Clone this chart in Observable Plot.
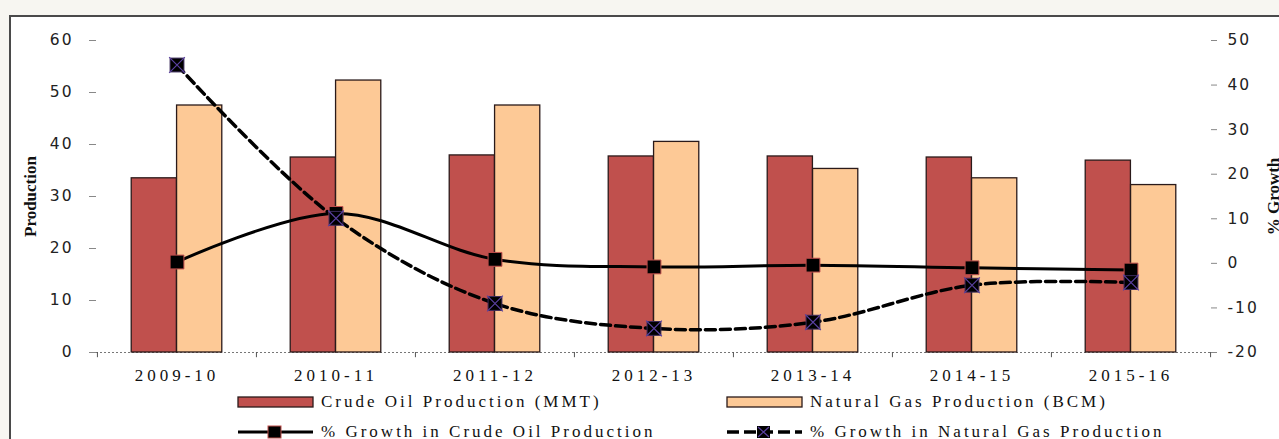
<!DOCTYPE html>
<html>
<head>
<meta charset="utf-8">
<script src="https://cdn.jsdelivr.net/npm/d3@7"></script>
<script src="https://cdn.jsdelivr.net/npm/@observablehq/plot@0.6"></script>
<style>
  html, body { margin: 0; padding: 0; }
  body { width: 1279px; height: 439px; background: #f7f6f1; position: relative; overflow: hidden; }
  #frame { position: absolute; left: 9px; top: 15px; width: 1270px; height: 424px; background: #fff;
           border-top: 2px solid #4a4a4a; border-left: 2px solid #4a4a4a; box-sizing: border-box; }
  #chart { position: absolute; left: 0; top: 0; }
  #legend { position: absolute; left: 0; top: 389px; width: 1279px; font-family: "Liberation Serif", serif;
            font-size: 17px; letter-spacing: 3px; color: #111; }
  .item { position: absolute; display: flex; align-items: center; white-space: nowrap; }
  .item svg { margin-right: 6px; }
</style>
</head>
<body>
<div id="frame"></div>
<div id="chart"></div>
<div id="legend"></div>
<script>
const categories = ["2009-10", "2010-11", "2011-12", "2012-13", "2013-14", "2014-15", "2015-16"];
const crudeOil = [33.5, 37.5, 37.9, 37.7, 37.7, 37.5, 36.9];
const naturalGas = [47.5, 52.3, 47.5, 40.5, 35.3, 33.5, 32.2];
const crudeGrowth = [0.3, 11.2, 0.9, -0.8, -0.4, -1.0, -1.5];
const gasGrowth = [44.5, 10.1, -9.0, -14.6, -13.2, -4.9, -4.3];
const leftTicks = [0, 10, 20, 30, 40, 50, 60];
const rightTicks = [-20, -10, 0, 10, 20, 30, 40, 50];
const seriesNames = ["Crude Oil Production (MMT)", "Natural Gas Production (BCM)",
                     "% Growth in Crude Oil Production", "% Growth in Natural Gas Production"];

const crudeColor = "#c0504d", gasColor = "#fdc996";
// map right-axis (growth %) values onto the left production scale: -20..50 -> 0..60
const toLeft = g => (g + 20) * 60 / 70;
const fromLeft = v => v * 70 / 60 - 20;

const rows = categories.map((c, i) => ({
  cat: c, crude: crudeOil[i], gas: naturalGas[i],
  cg: toLeft(crudeGrowth[i]), gg: toLeft(gasGrowth[i])
}));

const W = 1279, H = 390;
const mL = 96, mR = 69, mT = 40, mB = 38;
const bandW = (W - mL - mR) / categories.length;
const half = bandW * 0.57 / 2;

const chart = Plot.plot({
  width: W, height: H,
  marginLeft: mL, marginRight: mR, marginTop: mT, marginBottom: mB,
  style: {background: "transparent", color: "#111", overflow: "visible"},
  x: {type: "band", domain: categories, padding: 0, axis: null},
  y: {domain: [0, 60], axis: null},
  marks: [
    Plot.ruleY([0], {stroke: "#777", strokeDasharray: "2,2", strokeWidth: 1.2}),
    Plot.barY(rows, {x: "cat", y: "crude", fill: crudeColor, stroke: "#2a1a1a", strokeWidth: 1.3,
      insetLeft: bandW / 2 - half, insetRight: bandW / 2}),
    Plot.barY(rows, {x: "cat", y: "gas", fill: gasColor, stroke: "#2a1a1a", strokeWidth: 1.3,
      insetLeft: bandW / 2, insetRight: bandW / 2 - half}),
    Plot.ruleX(categories, {x: d => d, dx: -bandW / 2, y1: 0, y2: -1, stroke: "#555"}),
    Plot.ruleX(categories.slice(-1), {x: d => d, dx: bandW / 2, y1: 0, y2: -1, stroke: "#555"}),
    // left axis
    Plot.ruleX([0], {frameAnchor: "left", y1: 0, y2: 60, stroke: "#999", strokeWidth: 1.5}),
    Plot.axisY({anchor: "left", ticks: leftTicks, tickSize: 7, tickPadding: 16, label: null}),
    // right axis
    Plot.ruleX([0], {frameAnchor: "right", y1: 0, y2: 60, stroke: "#999", strokeWidth: 1.5}),
    Plot.axisY({anchor: "right", ticks: rightTicks.map(toLeft), tickFormat: v => String(Math.round(fromLeft(v))),
      tickSize: 6, tickPadding: 11, label: null}),
    // x axis labels
    Plot.axisX({anchor: "bottom", tickSize: 0, tickPadding: 16, label: null}),
    // growth lines
    Plot.line(rows, {x: "cat", y: "gg", stroke: "#000", strokeWidth: 3.5, strokeDasharray: "10,5", curve: "catmull-rom"}),
    Plot.line(rows, {x: "cat", y: "cg", stroke: "#000", strokeWidth: 3, curve: "catmull-rom"}),
    Plot.dot(rows, {x: "cat", y: "cg", symbol: "square", r: 7.8, fill: "#000", stroke: crudeColor, strokeWidth: 1}),
    Plot.dot(rows, {x: "cat", y: "gg", symbol: "square", r: 7.8, fill: "#000", stroke: "#3a2a5a", strokeWidth: 1}),
    Plot.dot(rows, {x: "cat", y: "gg", symbol: "times", r: 7.2, stroke: "#5a40a0", strokeWidth: 1.2}),
    // axis titles
    Plot.text(["Production"], {frameAnchor: "left", dx: -66, rotate: -90, textAnchor: "middle", fontWeight: "bold",
      fontFamily: "Liberation Serif, serif", fontSize: 17}),
    Plot.text(["% Growth"], {frameAnchor: "right", dx: 63, rotate: -90, textAnchor: "middle", fontWeight: "bold",
      fontFamily: "Liberation Serif, serif", fontSize: 17})
  ]
});
document.getElementById("chart").appendChild(chart);

// tick label styling
d3.select(chart).selectAll('g[aria-label="y-axis tick label"]')
  .attr("font-family", "DejaVu Sans, Verdana, sans-serif")
  .style("font-size", "15.5px").style("letter-spacing", "2px").style("fill", "#222");
d3.select(chart).selectAll('g[aria-label="y-axis tick label"] text')
  .style("font-size", "15.5px");
d3.select(chart).selectAll('g[aria-label="x-axis tick label"]')
  .attr("font-family", "Liberation Serif, serif")
  .style("font-size", "17px").style("letter-spacing", "4px").style("fill", "#111");
d3.select(chart).selectAll('g[aria-label="y-axis tick"]').attr("stroke", "#888");

// legend
const legend = document.getElementById("legend");
function addItem(left, top, swatchSvg, text) {
  const d = document.createElement("div");
  d.className = "item";
  d.style.left = left + "px";
  d.style.top = top + "px";
  d.innerHTML = swatchSvg + "<span>" + text + "</span>";
  legend.appendChild(d);
}
const rectSw = c => `<svg width="78" height="14"><rect x="1" y="2" width="75" height="10" fill="${c}" stroke="#2a1a1a" stroke-width="1.3"/></svg>`;
const lineSwCrude = `<svg width="78" height="14"><line x1="1" x2="76" y1="7" y2="7" stroke="#000" stroke-width="3"/><rect x="31" y="1" width="13" height="12" fill="#000" stroke="${crudeColor}"/></svg>`;
const lineSwGas = `<svg width="78" height="14"><line x1="1" x2="76" y1="7" y2="7" stroke="#000" stroke-width="3.5" stroke-dasharray="12,5"/><rect x="31" y="1" width="13" height="12" fill="#000"/><path d="M32,2L43,12M43,2L32,12" stroke="#5a40a0" stroke-width="1.2"/></svg>`;
addItem(237, 3, rectSw(crudeColor), seriesNames[0]);
addItem(726, 3, rectSw(gasColor), seriesNames[1]);
addItem(237, 33, lineSwCrude, seriesNames[2]);
addItem(726, 33, lineSwGas, seriesNames[3]);
</script>
</body>
</html>
